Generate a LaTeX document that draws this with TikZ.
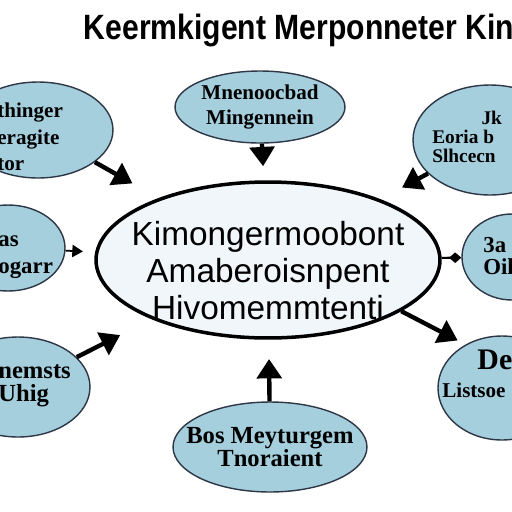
\documentclass[tikz,border=0pt]{standalone}
\usepackage{fontspec}
\setmainfont{Liberation Serif}
\setsansfont{Liberation Sans}
\usetikzlibrary{arrows.meta,shapes.geometric}
\definecolor{bubbleblue}{RGB}{166,207,222}
\definecolor{corefill}{RGB}{240,246,250}
\definecolor{rimgray}{RGB}{45,55,70}
% lines that do not widen their ellipse
\newcommand{\flatline}[1]{\makebox[0pt]{#1}}
\newcommand{\flatstack}[2]{\makebox[0pt]{\raisebox{#1}[0pt][0pt]{\begin{tabular}{@{}c@{}}#2\end{tabular}}}}

\begin{document}
\begin{tikzpicture}[x=0.02cm, y=-0.02cm,
    corebubble/.style={ellipse, draw=black, line width=2pt, fill=corefill, minimum width=6.88cm, minimum height=3.12cm, inner sep=0pt, font=\sffamily\fontsize{19}{21}\selectfont},
    sidebubble/.style={ellipse, draw=rimgray, line width=0.8pt, fill=bubbleblue, inner sep=0pt, align=center},
    sidetext/.style={font=\bfseries\fontsize{12}{15}\selectfont, align=left, anchor=west, inner sep=0pt},
    bigarrow/.style={-{Triangle[length=11pt,width=14pt]}, line width=2.5pt, black}
]
\fill[white] (0,0) rectangle (512,512);
\clip (0,0) rectangle (512,512);

\node (title) at (299,30) {\scalebox{0.857}[1]{\sffamily\bfseries\fontsize{20}{22}\selectfont Keermkigent Merponneter Kin}};

\node[corebubble] (core) at (268,260) {\flatstack{-13pt}{Kimongermoobont\\Amaberoisnpent\\Hivomemmtenti}};

\node[sidebubble, minimum width=3.4cm, minimum height=1.44cm, font=\bfseries\fontsize{12}{14}\selectfont] (top) at (260,107) {Mnenoocbad\\Mingennein};
\node[sidebubble, minimum width=3.88cm, minimum height=1.8cm, font=\bfseries\fontsize{14}{13}\selectfont] (bot) at (270,447) {\flatline{Bos Meyturgem}\\\flatline{Tnoraient}};

\node[sidebubble, minimum width=3.0cm, minimum height=1.92cm] (tl) at (38,130) {};
\node[sidebubble, minimum width=3.08cm, minimum height=2.2cm] (tr) at (490,140) {};
\node[sidebubble, minimum width=2.28cm, minimum height=1.72cm] (ml) at (8,248) {};
\node[sidebubble, minimum width=2.0cm, minimum height=1.72cm] (mr) at (512,257) {};
\node[sidebubble, minimum width=2.88cm, minimum height=2.0cm] (bl) at (18,387) {};
\node[sidebubble, minimum width=2.56cm, minimum height=2.08cm] (br) at (502,388) {};

\node[sidetext] (tltext) at (-3,137) {thinger\\eragite\\tor};
\node[sidetext, font=\bfseries\fontsize{11}{11}\selectfont] (trtext) at (432,137) {\hspace*{28pt}Jk\\Eoria b\\Slhcecn};
\node[sidetext, font=\bfseries\fontsize{13}{15}\selectfont] (mltext) at (-2,257) {as\\ogarr};
\node[sidetext, font=\bfseries\fontsize{13}{12.5}\selectfont] (mrtext) at (483,256) {3a\\Oil};
\node[sidetext, font=\bfseries\fontsize{14}{13}\selectfont] (bltext) at (-2,386) {nemsts\\Uhig};
\node[sidetext, font=\bfseries\fontsize{12}{16}\selectfont] (brtext) at (442,374) {\hspace*{20pt}{\fontsize{17}{16}\selectfont De}\\Listsoe};

% arrows into and out of the core
\draw[bigarrow, shorten >=8pt] (top) -- (core);
\draw[bigarrow, shorten >=17pt] (tl) -- (core);
\draw[bigarrow, shorten >=14pt] (tr) -- (core);
\draw[bigarrow, shorten >=20pt] (bl) -- (core);
\draw[bigarrow, shorten >=11pt] (bot) -- (core);
\draw[bigarrow, shorten >=5pt] (core.-21) -- (br.130);
\draw[-{Triangle[length=6pt,width=7pt]}, line width=1pt, shorten >=7pt] (ml) -- (core);
\draw[-{Kite[length=7pt,width=6pt,inset=3.5pt]}, line width=1.2pt] (core) -- (mr);
\end{tikzpicture}
\end{document}
